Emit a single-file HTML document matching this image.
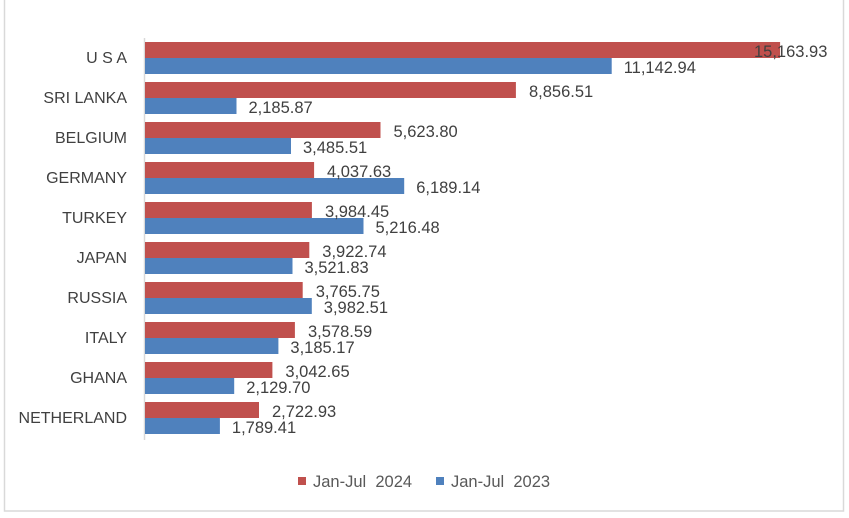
<!DOCTYPE html>
<html><head><meta charset="utf-8"><style>
body{margin:0;background:#fff;}
svg{display:block;font-family:"Liberation Sans",sans-serif;}
.c{font-size:16px;fill:#404040;text-anchor:end}
.v{font-size:16.5px;fill:#404040}
</style></head><body>
<svg width="849" height="518" xmlns="http://www.w3.org/2000/svg">
<rect x="4.5" y="-2" width="839" height="513" fill="#fff" stroke="#d9d9d9" stroke-width="1.5"/>
<line x1="144.5" y1="38" x2="144.5" y2="440" stroke="#d9d9d9" stroke-width="1.5"/>
<g fill="#c0504d">
<rect x="145" y="42" width="635.1" height="16"/>
<rect x="145" y="82" width="370.9" height="16"/>
<rect x="145" y="122" width="235.5" height="16"/>
<rect x="145" y="162" width="169.1" height="16"/>
<rect x="145" y="202" width="166.9" height="16"/>
<rect x="145" y="242" width="164.3" height="16"/>
<rect x="145" y="282" width="157.7" height="16"/>
<rect x="145" y="322" width="149.9" height="16"/>
<rect x="145" y="362" width="127.4" height="16"/>
<rect x="145" y="402" width="114.0" height="16"/>
</g>
<g fill="#4f81bd">
<rect x="145" y="58" width="466.7" height="16"/>
<rect x="145" y="98" width="91.5" height="16"/>
<rect x="145" y="138" width="146.0" height="16"/>
<rect x="145" y="178" width="259.2" height="16"/>
<rect x="145" y="218" width="218.5" height="16"/>
<rect x="145" y="258" width="147.5" height="16"/>
<rect x="145" y="298" width="166.8" height="16"/>
<rect x="145" y="338" width="133.4" height="16"/>
<rect x="145" y="378" width="89.2" height="16"/>
<rect x="145" y="418" width="74.9" height="16"/>
</g>
<text class="c" x="127" y="63">U S A</text>
<text class="c" x="127" y="103">SRI LANKA</text>
<text class="c" x="127" y="143">BELGIUM</text>
<text class="c" x="127" y="183">GERMANY</text>
<text class="c" x="127" y="223">TURKEY</text>
<text class="c" x="127" y="263">JAPAN</text>
<text class="c" x="127" y="303">RUSSIA</text>
<text class="c" x="127" y="343">ITALY</text>
<text class="c" x="127" y="383">GHANA</text>
<text class="c" x="127" y="423">NETHERLAND</text>
<text class="v" x="754" y="57">15,163.93</text>
<text class="v" x="529" y="97">8,856.51</text>
<text class="v" x="393.5" y="137">5,623.80</text>
<text class="v" x="327" y="177">4,037.63</text>
<text class="v" x="325" y="217">3,984.45</text>
<text class="v" x="322.3" y="257">3,922.74</text>
<text class="v" x="315.7" y="297">3,765.75</text>
<text class="v" x="308" y="337">3,578.59</text>
<text class="v" x="285.4" y="377">3,042.65</text>
<text class="v" x="272" y="417">2,722.93</text>
<text class="v" x="623.7" y="73">11,142.94</text>
<text class="v" x="248.5" y="113">2,185.87</text>
<text class="v" x="303" y="153">3,485.51</text>
<text class="v" x="416.2" y="193">6,189.14</text>
<text class="v" x="375.5" y="233">5,216.48</text>
<text class="v" x="304.5" y="273">3,521.83</text>
<text class="v" x="323.8" y="313">3,982.51</text>
<text class="v" x="290.4" y="353">3,185.17</text>
<text class="v" x="246.2" y="393">2,129.70</text>
<text class="v" x="231.9" y="433">1,789.41</text>
<rect x="298" y="477" width="8" height="8" fill="#c0504d"/>
<text x="313" y="487" font-size="16.5" fill="#595959">Jan-Jul&#160; 2024</text>
<rect x="436" y="477" width="8" height="8" fill="#4f81bd"/>
<text x="451" y="487" font-size="16.5" fill="#595959">Jan-Jul&#160; 2023</text>
</svg>
</body></html>
